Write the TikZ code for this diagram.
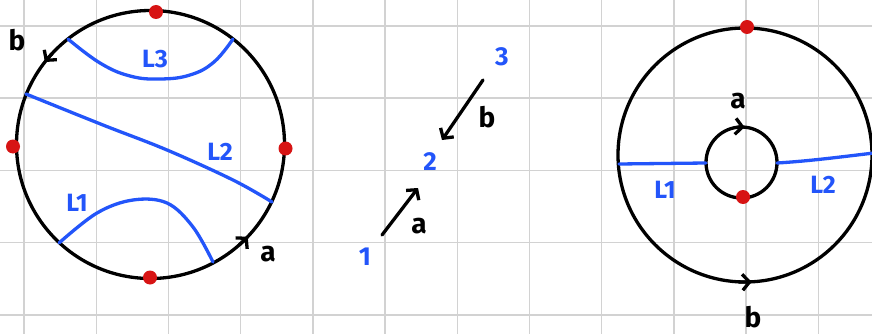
\documentclass[tikz,border=0pt]{standalone}
\usepackage{fontspec}
\setmainfont{Fira Sans}
\usetikzlibrary{arrows.meta}
\definecolor{penblue}{RGB}{35,85,250}
\definecolor{penred}{RGB}{215,20,20}
\definecolor{gridgray}{RGB}{210,210,210}
\begin{document}
\begin{tikzpicture}[x=1pt,y=1pt,
  pen/.style={line width=3.3pt, line cap=round, line join=round},
  ink/.style={pen, black},
  blueline/.style={pen, penblue},
  dot/.style={fill=penred, draw=none},
  lbl/.style={font=\bfseries\fontsize{28}{28}\selectfont, inner sep=0pt},
  bluelbl/.style={font=\bfseries\fontsize{25}{25}\selectfont, inner sep=0pt, text=penblue},
  digit/.style={font=\bfseries\fontsize{26}{26}\selectfont, inner sep=0pt, text=penblue},
  tip/.style={-{Straight Barb[length=7pt,width=16pt]}}]
\fill[white] (0,0) rectangle (872,-334);
\useasboundingbox (0,0) rectangle (872,-334);
\foreach \i in {0,...,11} \draw[gridgray, line width=1.4pt] ({24+72.2*\i},0) -- ({24+72.2*\i},-334);
\foreach \j in {0,...,4} \draw[gridgray, line width=1.4pt] (0,{-26-72.2*\j}) -- (872,{-26-72.2*\j});
% left disc
\draw[ink] (150.5,-144.5) circle[radius=134pt];
\draw[blueline] plot[smooth, tension=0.7] coordinates {(68,-39) (100,-63) (130,-76) (160,-79) (190,-75) (214,-62) (233,-39)};
\draw[blueline] plot[smooth, tension=0.6] coordinates {(26,-94) (103,-125) (167,-150) (233,-180) (272,-202)};
\draw[blueline] plot[smooth, tension=0.6] coordinates {(59,-243) (97,-213) (133,-200) (167,-203) (193,-227) (213,-262)};
\fill[dot] (156,-12) circle[radius=7pt];
\fill[dot] (13,-146.5) circle[radius=7pt];
\fill[dot] (285.5,-148.5) circle[radius=7pt];
\fill[dot] (150,-277.5) circle[radius=7pt];
\draw[ink, tip] ([shift={(137:134pt)}]150.5,-144.5) arc[start angle=137, end angle=142, radius=134pt];
\draw[ink, tip] ([shift={(-48.5:134pt)}]150.5,-144.5) arc[start angle=-48.5, end angle=-43.5, radius=134pt];
\node[lbl] (lb) at (17,-40) {b};
\node[lbl] (la) at (268,-254) {a};
\node[bluelbl] (lL3) at (155,-59) {L3};
\node[bluelbl] (lL2) at (220,-152) {L2};
\node[bluelbl] (lL1) at (77,-203) {L1};
% middle
\node[digit] (n3) at (502,-57) {3};
\node[digit] (n2) at (430,-162) {2};
\node[digit] (n1) at (365,-257) {1};
\node[lbl] (ma) at (419,-226) {a};
\node[lbl] (mb) at (487,-117) {b};
\coordinate (a1) at (382,-235);
\coordinate (a2) at (418,-188);
\coordinate (b1) at (483,-80);
\coordinate (b2) at (442,-140);
\draw[ink, tip] (a1) -- (a2);
\draw[ink, tip] (b1) -- (b2);
% right annulus
\draw[ink] (745,-155) circle[radius=127pt];
\draw[ink] (741.5,-162.5) circle[radius=35.5pt];
\draw[blueline] (619,-164) -- (706,-163);
\draw[blueline] (777,-163) .. controls (810,-161) and (840,-157) .. (874,-153);
\fill[dot] (747,-27) circle[radius=7pt];
\fill[dot] (743,-197) circle[radius=7pt];
\draw[ink, tip] ([shift={(-93:127pt)}]745,-155) arc[start angle=-93, end angle=-87, radius=127pt];
\draw[ink, tip] ([shift={(97:35.5pt)}]741.5,-162.5) arc[start angle=97, end angle=85, radius=35.5pt];
\node[lbl] (ra) at (738,-101) {a};
\node[lbl] (rb) at (753,-317) {b};
\node[bluelbl] (rL1) at (665,-190) {L1};
\node[bluelbl] (rL2) at (823,-185) {L2};
\end{tikzpicture}
\end{document}
